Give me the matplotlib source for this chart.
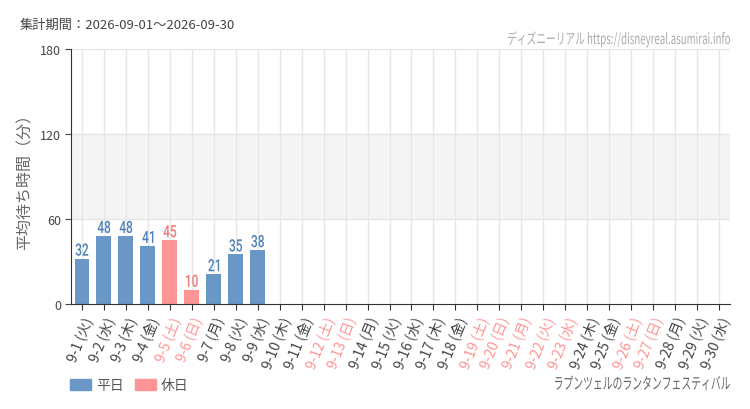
import matplotlib
matplotlib.use("Agg")
import matplotlib.pyplot as plt
from matplotlib.patches import PathPatch, Rectangle
from matplotlib.textpath import TextPath
from matplotlib.font_manager import FontProperties
from matplotlib.transforms import Affine2D

plt.rcParams['font.family'] = ['Noto Sans CJK JP', 'DejaVu Sans']

days = list(range(1, 31))
weekdays = ["火", "水", "木", "金", "土", "日", "月",
            "火", "水", "木", "金", "土", "日", "月",
            "火", "水", "木", "金", "土", "日", "月",
            "火", "水", "木", "金", "土", "日", "月",
            "火", "水"]
holidays = [5, 6, 12, 13, 19, 20, 21, 22, 23, 26, 27]
waits = [32, 48, 48, 41, 45, 10, 21, 35, 38]

BLUE = "#6a98c6"
RED = "#ff9494"
BLUE_TXT = "#4f82ba"
RED_TXT = "#f27979"
GRID = "#e6e6e6"
W, H = 750, 410


# condensed text drawn as a path, x/y in pixels (y = baseline from top)
def squeezed(fig, s, x, y, size, color, sx=None, width=None, ha="left",
             family="Roboto", weight="normal"):
    prop = FontProperties(family=family, weight=weight)
    tp = TextPath((0, 0), s, size=size, prop=prop)
    ext = tp.get_extents()
    if width is not None:
        sx = width / ext.width
    w = ext.width * sx
    if ha == "center":
        x0 = x - w / 2
    elif ha == "right":
        x0 = x - w
    else:
        x0 = x
    tr = Affine2D().scale(sx, 1).translate(x0 - ext.x0 * sx, H - y)
    fig.add_artist(PathPatch(tp, transform=tr, facecolor=color, lw=0))


fig = plt.figure(figsize=(W / 100, H / 100), dpi=100)
ax = fig.add_axes([71 / W, 105 / H, 659 / W, 255 / H])

ax.axhspan(60, 120, color="#f4f4f4", zorder=0)
for y in (60, 120, 180):
    ax.axhline(y, color=GRID, lw=1, zorder=1)
for i in range(len(days)):
    ax.axvline(i, color=GRID, lw=1, zorder=1)

ax.set_xlim(-0.5, len(days) - 0.5)
ax.set_ylim(0, 180)

for i, v in enumerate(waits):
    hol = days[i] in holidays
    ax.bar(i, v, width=0.68, color=RED if hol else BLUE, zorder=2)
    px, py = ax.transData.transform((i, v))
    squeezed(fig, str(v), px, H - py - 3, 17, RED_TXT if hol else BLUE_TXT,
             sx=0.7, ha="center", weight="medium")

ax.set_yticks([0, 60, 120, 180])
ax.set_xticks(range(len(days)))
labels = [f"9-{d} ({w})" for d, w in zip(days, weekdays)]
ax.set_xticklabels(labels, rotation=68, ha="right", rotation_mode="anchor",
                   fontsize=10)
for lab, d in zip(ax.get_xticklabels(), days):
    lab.set_color(RED if d in holidays else "#444444")
ax.tick_params(axis="y", labelsize=9, colors="#444444", length=4, pad=3)
ax.tick_params(axis="x", length=4, color="#333333")

for s in ("top", "right"):
    ax.spines[s].set_visible(False)
ax.spines["left"].set_color("#333333")
ax.spines["bottom"].set_color("#333333")

ax.set_ylabel("平均待ち時間（分）", fontsize=11.5, color="#666666")
ax.yaxis.set_label_coords((34 - 71) / 659, 0.5)

fig.text(20 / W, 1 - 25 / H, "集計期間：2026-09-01～2026-09-30",
         fontsize=9.5, color="#444444", va="center")
squeezed(fig, "ディズニーリアル https://disneyreal.asumirai.info", 730, 45, 15,
         "#aaaaaa", width=222, ha="right", family="Noto Sans CJK JP")
squeezed(fig, "ラプンツェルのランタンフェスティバル", 730, 390, 16,
         "#666666", width=175, ha="right", family="Noto Sans CJK JP")

# legend
for x0, col, name in ((70, BLUE, "平日"), (135, RED, "休日")):
    fig.add_artist(Rectangle((x0 / W, 1 - 391 / H), 21 / W, 11 / H,
                             transform=fig.transFigure, color=col))
    fig.text((x0 + 26) / W, 1 - 386 / H, name, fontsize=10, color="#555555",
             va="center")

fig.savefig("out.png", dpi=100, facecolor="white")
